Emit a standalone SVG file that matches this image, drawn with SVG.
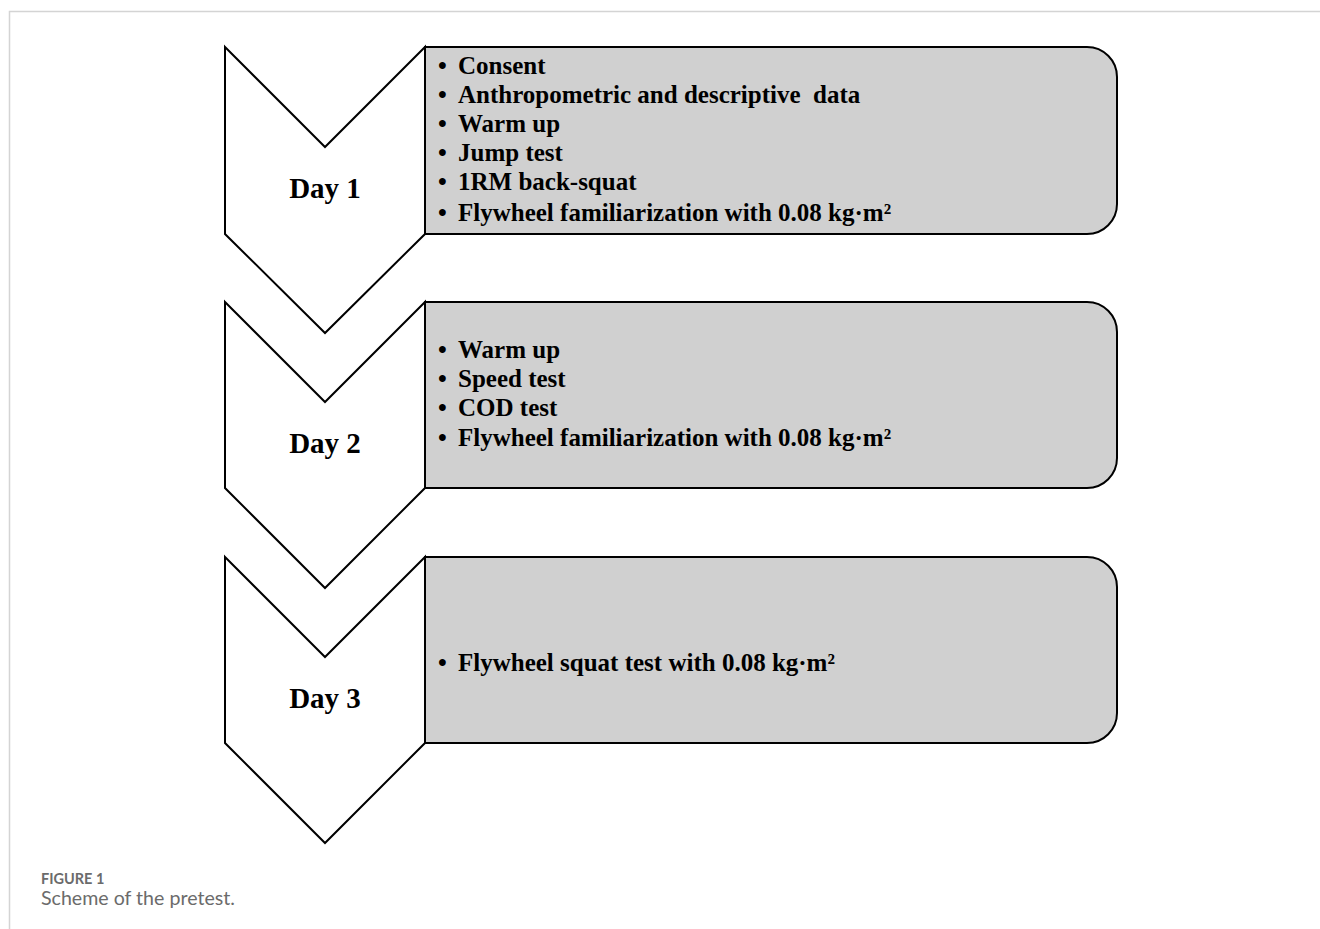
<svg xmlns="http://www.w3.org/2000/svg" width="1320" height="929" viewBox="0 0 1320 929">
<style>
.frame{fill:none;stroke:#d4d4d4;stroke-width:1.5}
.chev{fill:#ffffff;stroke:#000;stroke-width:2;stroke-linejoin:miter}
.box{fill:#d0d0d0;stroke:#000;stroke-width:2}
.day{font-family:"Liberation Serif","Times New Roman",serif;font-weight:bold;font-size:29px;fill:#000;text-anchor:middle}
.item{font-family:"Liberation Serif","Times New Roman",serif;font-weight:bold;font-size:25px;fill:#000;white-space:pre}
.cap1{font-family:Lato,"Liberation Sans",sans-serif;font-weight:bold;font-size:14.5px;fill:#6b6b6b}
.cap2{font-family:Lato,"Liberation Sans",sans-serif;font-size:19.6px;fill:#6b6b6b}
</style>
<path class="frame" d="M9.5 929 V11.5 H1320"/>
<g id="connectors"></g>
<g id="day1">
<path class="box" d="M425 47 H1087 A30 30 0 0 1 1117 77 V204 A30 30 0 0 1 1087 234 H425 Z"/>
<polygon class="chev" points="225,47 325,147 425,47 425,234 325,333 225,234"/>
<text class="day" x="325" y="198">Day 1</text>
<text class="item" x="438" y="74">•<tspan x="458">Consent</tspan></text>
<text class="item" x="438" y="103" xml:space="preserve">•<tspan x="458">Anthropometric and descriptive  data</tspan></text>
<text class="item" x="438" y="132">•<tspan x="458">Warm up</tspan></text>
<text class="item" x="438" y="161">•<tspan x="458">Jump test</tspan></text>
<text class="item" x="438" y="190">•<tspan x="458">1RM back-squat</tspan></text>
<text class="item" x="438" y="221">•<tspan x="458">Flywheel familiarization with 0.08 kg·m²</tspan></text>
</g>
<g id="day2">
<path class="box" d="M425 302 H1087 A30 30 0 0 1 1117 332 V458 A30 30 0 0 1 1087 488 H425 Z"/>
<polygon class="chev" points="225,302 325,402 425,302 425,488 325,588 225,488"/>
<text class="day" x="325" y="453">Day 2</text>
<text class="item" x="438" y="358">•<tspan x="458">Warm up</tspan></text>
<text class="item" x="438" y="387">•<tspan x="458">Speed test</tspan></text>
<text class="item" x="438" y="416">•<tspan x="458">COD test</tspan></text>
<text class="item" x="438" y="446">•<tspan x="458">Flywheel familiarization with 0.08 kg·m²</tspan></text>
</g>
<g id="day3">
<path class="box" d="M425 557 H1087 A30 30 0 0 1 1117 587 V713 A30 30 0 0 1 1087 743 H425 Z"/>
<polygon class="chev" points="225,557 325,657 425,557 425,743 325,843 225,743"/>
<text class="day" x="325" y="708">Day 3</text>
<text class="item" x="438" y="671">•<tspan x="458">Flywheel squat test with 0.08 kg·m²</tspan></text>
</g>
<g id="caption">
<text class="cap1" x="41" y="884">FIGURE 1</text>
<text class="cap2" x="41" y="905">Scheme of the pretest.</text>
</g>
</svg>
